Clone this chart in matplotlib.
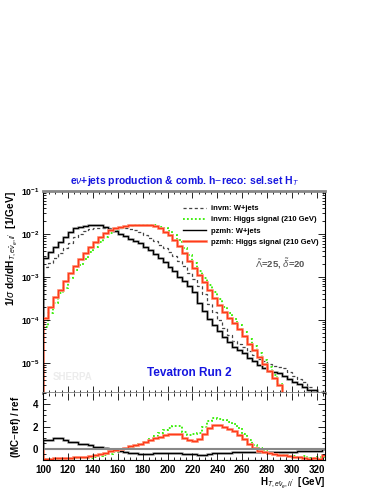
import numpy as np
import matplotlib.pyplot as plt
from matplotlib.lines import Line2D
from matplotlib.ticker import MultipleLocator, LogLocator, NullFormatter

plt.rcParams['font.family'] = ['Liberation Sans', 'DejaVu Sans']
plt.rcParams['mathtext.fontset'] = 'custom'
plt.rcParams['mathtext.rm'] = 'Liberation Sans'
plt.rcParams['mathtext.it'] = 'Liberation Sans:italic'
plt.rcParams['mathtext.bf'] = 'Liberation Sans:bold'

# bin edges in GeV (4 GeV bins)
edges = np.arange(100, 332, 4)

# log10 of 1/sigma dsigma/dH [1/GeV], one value per bin
invm_wjets = [-2.76, -2.68, -2.57, -2.45, -2.33, -2.20, -2.06, -2.01, -1.93, -1.88,
              -1.87, -1.86, -1.85, -1.85, -1.86, -1.86, -1.87, -1.88, -1.91, -1.96,
              -2.02, -2.09, -2.17, -2.25, -2.33, -2.42, -2.52, -2.62, -2.75, -2.90,
              -3.05, -3.20, -3.40, -3.62, -3.82, -4.00, -4.18, -4.35, -4.48, -4.56,
              -4.62, -4.72, -4.82, -4.90, -4.96, -5.02, -5.06, -5.10, -5.12, -5.20,
              -5.30, -5.38, -5.45, -5.55, -5.62, -5.68, -5.70]
invm_higgs = [-4.16, -3.84, -3.61, -3.38, -3.26, -3.03, -2.84, -2.72, -2.58, -2.43,
              -2.30, -2.18, -2.08, -1.98, -1.93, -1.87, -1.83, -1.81, -1.78, -1.78,
              -1.78, -1.79, -1.80, -1.83, -1.87, -1.94, -2.03, -2.15, -2.32, -2.50,
              -2.68, -2.85, -3.02, -3.18, -3.34, -3.52, -3.70, -3.85, -3.98, -4.12,
              -4.28, -4.45, -4.60, -4.77, -4.94, -5.10, -5.28, -5.50, -8.0, -8.0,
              -8.0, -8.0, -8.0, -8.0, -8.0, -8.0, -8.0]
pzmh_wjets = [-2.55, -2.41, -2.30, -2.18, -2.08, -1.96, -1.87, -1.84, -1.81, -1.79,
              -1.78, -1.80, -1.84, -1.88, -1.93, -1.99, -2.05, -2.12, -2.16, -2.22,
              -2.30, -2.38, -2.46, -2.55, -2.66, -2.76, -2.87, -2.99, -3.10, -3.22,
              -3.35, -3.60, -3.80, -3.98, -4.12, -4.25, -4.40, -4.52, -4.62, -4.70,
              -4.78, -4.88, -4.96, -5.05, -5.12, -5.18, -5.21, -5.24, -5.30, -5.38,
              -5.44, -5.48, -5.55, -5.62, -5.64, -5.70, -5.68]
pzmh_higgs = [-3.96, -3.71, -3.46, -3.30, -3.09, -2.91, -2.74, -2.58, -2.45, -2.31,
              -2.19, -2.08, -1.98, -1.91, -1.87, -1.83, -1.81, -1.79, -1.78, -1.78,
              -1.79, -1.80, -1.82, -1.86, -1.95, -2.03, -2.13, -2.28, -2.45, -2.62,
              -2.80, -2.96, -3.12, -3.30, -3.48, -3.65, -3.82, -3.95, -4.08, -4.22,
              -4.38, -4.55, -4.70, -4.86, -5.02, -5.18, -5.34, -5.52, -8.0, -8.0,
              -8.0, -8.0, -8.0, -8.0, -8.0, -8.0, -8.0]

# (MC-ref)/ref, ref = invm: W+jets
ratio_invm_higgs = [-0.95, -0.94, -0.93, -0.92, -0.90, -0.88, -0.86, -0.84, -0.82, -0.78,
                    -0.72, -0.64, -0.55, -0.42, -0.30, -0.15, -0.05, 0.10, 0.25, 0.45,
                    0.62, 0.85, 1.15, 1.40, 1.70, 1.85, 2.05, 2.05, 1.55, 1.28,
                    1.35, 1.45, 2.00, 2.50, 2.80, 2.70, 2.60, 2.40, 2.20, 1.85,
                    1.30, 0.80, 0.36, 0.06, -0.18, -0.35, -0.45, -0.52, -0.56, -0.60,
                    -0.65, -0.70, -0.68, -0.78, -0.80, -0.72, -0.70]
ratio_pzmh_wjets = [0.80, 0.80, 0.95, 0.93, 0.80, 0.60, 0.62, 0.45, 0.40, 0.30,
                    0.20, 0.15, 0.08, 0.00, -0.09, -0.20, -0.28, -0.33, -0.38, -0.42,
                    -0.44, -0.42, -0.40, -0.40, -0.38, -0.38, -0.40, -0.38, -0.45, -0.48,
                    -0.50, -0.54, -0.52, -0.45, -0.40, -0.35, -0.33, -0.33, -0.32, -0.32,
                    -0.32, -0.30, -0.28, -0.26, -0.24, -0.24, -0.24, -0.25, -0.26, -0.28,
                    -0.25, -0.22, -0.20, -0.15, -0.20, -0.22, 0.00]
ratio_pzmh_higgs = [-0.89, -0.88, -0.86, -0.84, -0.82, -0.80, -0.77, -0.74, -0.70, -0.64,
                    -0.58, -0.48, -0.36, -0.22, -0.08, 0.03, 0.12, 0.22, 0.35, 0.45,
                    0.58, 0.75, 0.95, 1.10, 1.22, 1.30, 1.35, 1.35, 0.95, 0.80,
                    0.72, 0.85, 1.30, 1.90, 2.15, 2.10, 1.95, 1.80, 1.60, 1.25,
                    0.85, 0.45, 0.08, -0.15, -0.30, -0.40, -0.48, -0.54, -0.58, -0.64,
                    -0.70, -0.75, -0.85, -0.88, -0.84, -0.88, -0.55]

labels = ['invm: W+jets', 'invm: Higgs signal (210 GeV)', 'pzmh: W+jets',
          'pzmh: Higgs signal (210 GeV)']

fig = plt.figure(figsize=(3.82, 4.94), dpi=100)
ax = fig.add_axes([0.1126, 0.2045, 0.7382, 0.4089])
rax = fig.add_axes([0.1126, 0.0688, 0.7382, 0.1356], sharex=ax)

red = '#ff3b1a'
red_sh = '#ff9c85'
green = '#33ee00'
blue = '#1515e0'

# main panel
ax.stairs(10 ** np.array(invm_wjets), edges, color='#444444', lw=0.9, ls=(0, (2.5, 2)),
          label=labels[0])
ax.stairs(10 ** np.array(invm_higgs), edges, color=green, lw=1.3, ls=(0, (1, 1.2)),
          label=labels[1])
ax.stairs(10 ** np.array(pzmh_wjets), edges, color='#999999', lw=1.9, alpha=0.7)
ax.stairs(10 ** np.array(pzmh_wjets), edges, color='black', lw=1.0, label=labels[2])
ax.stairs(10 ** np.array(pzmh_higgs), edges, color=red_sh, lw=2.0)
ax.stairs(10 ** np.array(pzmh_higgs), edges, color=red, lw=1.0)

handles, _ = ax.get_legend_handles_labels()
handles.append((Line2D([], [], color=red_sh, lw=2.0), Line2D([], [], color=red, lw=1.0)))
ax.legend(handles, labels, loc='upper right', bbox_to_anchor=(1.0, 0.965),
          frameon=False, handlelength=3.0, handletextpad=0.6, labelspacing=0.5,
          prop={'weight': 'bold', 'size': 5.5})

ax.set_yscale('log')
ax.set_ylim(2e-6, 0.1)
ax.set_xlim(100, 326.5)
ax.yaxis.set_major_locator(LogLocator(base=10, numticks=10))
ax.yaxis.set_minor_locator(LogLocator(base=10, subs=np.arange(2, 10), numticks=10))
ax.yaxis.set_minor_formatter(NullFormatter())
ax.set_ylabel(r'1/$\sigma$ d$\sigma$/dH$_{T,e\bar{\nu}_e,ll^{\prime}}$  [1/GeV]',
              loc='top', fontsize=7.3, fontweight='bold')
ax.yaxis.set_label_coords(-0.085, 1.0)
plt.setp(ax.get_xticklabels(), visible=False)

ax.text(0.75, 0.64, r'$\tilde{\Lambda}$=25, $\tilde{\delta}$=20', transform=ax.transAxes,
        fontsize=6.8, color='#555555', fontweight='bold', va='center')
ax.text(0.37, 0.1, 'Tevatron Run 2', transform=ax.transAxes, fontsize=8.5,
        color=blue, fontweight='bold', va='center')
ax.text(0.035, 0.08, 'SHERPA', transform=ax.transAxes, fontsize=7,
        color='#ececec', fontweight='bold', va='center')
ax.set_title(r'e$\nu$+jets production & comb. h$-$reco: sel.set H$_T$', fontsize=7.5,
             color=blue, fontweight='bold', pad=5)

# ratio panel
rax.axhline(0, color='#888888', lw=1.5)
rax.stairs(ratio_invm_higgs, edges, color=green, lw=1.3, ls=(0, (1, 1.2)))
rax.stairs(ratio_pzmh_wjets, edges, color='#999999', lw=1.9, alpha=0.7)
rax.stairs(ratio_pzmh_wjets, edges, color='black', lw=1.0)
rax.stairs(ratio_pzmh_higgs, edges, color=red_sh, lw=2.0)
rax.stairs(ratio_pzmh_higgs, edges, color=red, lw=1.0)
rax.set_ylim(-1, 5)
rax.yaxis.set_major_locator(MultipleLocator(2))
rax.yaxis.set_minor_locator(MultipleLocator(0.5))
rax.xaxis.set_major_locator(MultipleLocator(20))
rax.xaxis.set_minor_locator(MultipleLocator(5))
rax.set_ylabel('(MC$-$ref) / ref', fontsize=7, fontweight='bold', labelpad=7)
rax.set_xlabel(r'H$_{T,e\bar{\nu}_e,ll^{\prime}}$  [GeV]', loc='right', fontsize=7,
               fontweight='bold', labelpad=0)

for a in (ax, rax):
    a.tick_params(which='both', direction='in', top=True, right=True, labelsize=7,
                  width=0.6)
    a.tick_params(which='major', length=5)
    a.tick_params(which='minor', length=2.5)
    for lab in a.get_xticklabels() + a.get_yticklabels():
        lab.set_fontweight('bold')
    for s in ('left', 'right'):
        a.spines[s].set_linewidth(0.8)
ax.tick_params(axis='y', labelsize=6.3, pad=2.5)
ax.spines['top'].set_color('#888888')
ax.spines['top'].set_linewidth(2)
ax.spines['bottom'].set_color('#888888')
ax.spines['bottom'].set_linewidth(2)
rax.spines['top'].set_visible(False)
rax.spines['bottom'].set_linewidth(0.8)

fig.savefig('out.png', dpi=100)
